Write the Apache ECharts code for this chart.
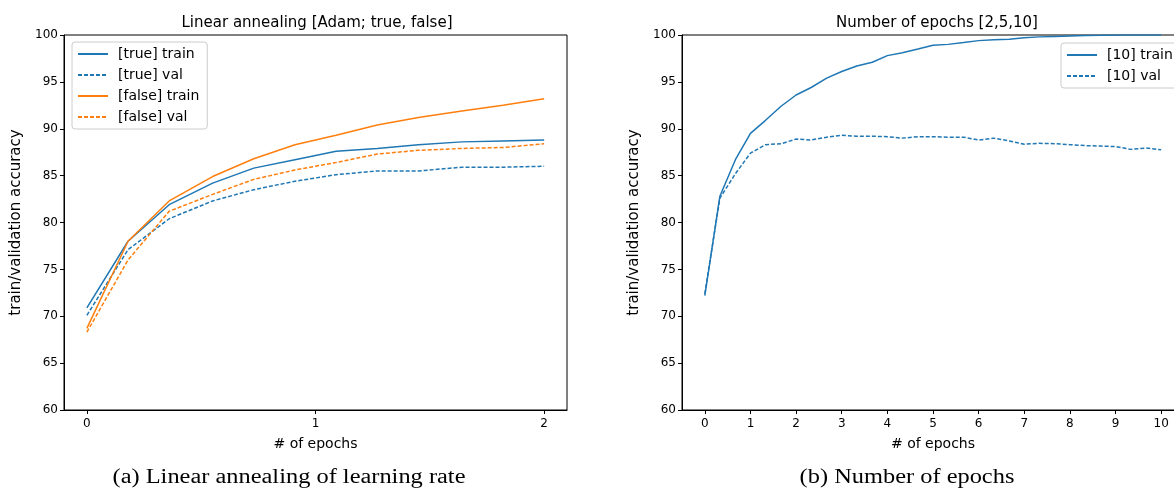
<!DOCTYPE html>
<html>
<head>
<meta charset="utf-8">
<script src="https://cdn.jsdelivr.net/npm/echarts@6/dist/echarts.min.js"></script>
<style>
html,body{margin:0;padding:0;background:#fff;}
#main{width:1174px;height:489px;}
</style>
</head>
<body>
<div id="main"></div>
<script>
// ---- data ----
var titleA = 'Linear annealing [Adam; true, false]';
var titleB = 'Number of epochs [2,5,10]';
var captionA = '(a) Linear annealing of learning rate';
var captionB = '(b) Number of epochs';
var xName = '# of epochs';
var yName = 'train/validation accuracy';

var yTicks = [60, 65, 70, 75, 80, 85, 90, 95, 100];
var xTicksA = [0, 1, 2];
var xTicksB = [0, 1, 2, 3, 4, 5, 6, 7, 8, 9, 10];

var epochsA = [0, 0.18, 0.36, 0.55, 0.73, 0.91, 1.09, 1.27, 1.45, 1.64, 1.82, 2.0];
var trueTrain  = [70.9, 78.0, 81.9, 84.2, 85.8, 86.7, 87.6, 87.9, 88.3, 88.6, 88.7, 88.8];
var trueVal    = [70.1, 77.1, 80.4, 82.3, 83.5, 84.4, 85.1, 85.5, 85.5, 85.9, 85.9, 86.0];
var falseTrain = [68.7, 78.0, 82.3, 84.9, 86.8, 88.3, 89.3, 90.4, 91.2, 91.9, 92.5, 93.2];
var falseVal   = [68.3, 76.0, 81.2, 83.0, 84.6, 85.6, 86.4, 87.3, 87.7, 87.9, 88.0, 88.4];

var epochsB = [0, 0.33, 0.67, 1, 1.33, 1.67, 2, 2.33, 2.67, 3, 3.33, 3.67, 4, 4.33, 4.67, 5,
               5.33, 5.67, 6, 6.33, 6.67, 7, 7.33, 7.67, 8, 8.33, 8.67, 9, 9.33, 9.67, 10];
var train10 = [72.2, 82.8, 86.7, 89.5, 90.9, 92.4, 93.6, 94.4, 95.4, 96.1, 96.7, 97.1, 97.8, 98.1, 98.5, 98.9,
               99.0, 99.2, 99.4, 99.5, 99.55, 99.7, 99.8, 99.85, 99.9, 99.95, 99.97, 100, 100, 100, 100];
var val10   = [72.4, 82.6, 85.2, 87.4, 88.3, 88.4, 88.9, 88.8, 89.1, 89.3, 89.2, 89.2, 89.15, 89.0, 89.15, 89.15,
               89.1, 89.1, 88.8, 89.0, 88.7, 88.35, 88.45, 88.4, 88.3, 88.2, 88.15, 88.1, 87.8, 87.95, 87.75];

var BLUE = '#1f77b4', ORANGE = '#ff7f0e';

function pairs(xs, ys) { return xs.map(function (x, i) { return [x, ys[i]]; }); }

var font = 'DejaVu Sans';
function xAxis(gi, min, max, ticks) {
  return {
    type: 'value', gridIndex: gi, min: min, max: max,
    name: xName, nameLocation: 'middle', nameGap: 27,
    nameTextStyle: { fontFamily: font, fontSize: 14, color: '#000' },
    axisLine: { show: true, onZero: false, lineStyle: { color: '#000', width: 1 } },
    axisTick: { show: true, length: 4, inside: false, customValues: ticks, lineStyle: { color: '#000' } },
    axisLabel: { customValues: ticks, margin: 8, fontFamily: font, fontSize: 12, color: '#000' },
    splitLine: { show: false }
  };
}
function yAxis(gi) {
  return {
    type: 'value', gridIndex: gi, min: yTicks[0], max: yTicks[yTicks.length - 1], interval: 5,
    name: yName, nameLocation: 'middle', nameGap: 40, nameRotate: 90,
    nameTextStyle: { fontFamily: font, fontSize: 15, color: '#000' },
    axisLine: { show: true, onZero: false, lineStyle: { color: '#000', width: 1 } },
    axisTick: { show: true, length: 4, lineStyle: { color: '#000' } },
    axisLabel: { margin: 6, fontFamily: font, fontSize: 12, color: '#000' },
    splitLine: { show: false }
  };
}
function line(name, xi, data, color, dashed) {
  return {
    type: 'line', name: name, xAxisIndex: xi, yAxisIndex: xi, data: data,
    symbol: 'none', showSymbol: false, animation: false,
    lineStyle: { color: color, width: 1.5, type: dashed ? [4, 2] : 'solid' },
    itemStyle: { color: color }
  };
}

var legendCommon = {
  orient: 'vertical', itemWidth: 30, itemHeight: 14, itemGap: 7,
  backgroundColor: 'rgba(255,255,255,0.85)', borderColor: '#cccccc', borderWidth: 1, borderRadius: 3,
  padding: [5, 8, 5, 5],
  itemStyle: { color: 'transparent', borderColor: 'transparent', borderWidth: 0, opacity: 0 },
  textStyle: { fontFamily: font, fontSize: 14, color: '#000', padding: [0, 0, 0, 5] }
};

var chart = echarts.init(document.getElementById('main'), null, { renderer: 'canvas' });
chart.setOption({
  animation: false,
  backgroundColor: '#fff',
  title: [
    { text: titleA, left: 312, top: 11, textAlign: 'center',
      textStyle: { fontFamily: font, fontSize: 15, fontWeight: 'normal', color: '#000' } },
    { text: titleB, left: 932, top: 11, textAlign: 'center',
      textStyle: { fontFamily: font, fontSize: 15, fontWeight: 'normal', color: '#000' } }
  ],
  grid: [
    { left: 64, width: 503, top: 35, bottom: 79, outerBoundsMode: 'none', containLabel: false,
      show: true, borderColor: '#000', borderWidth: 1, backgroundColor: 'transparent' },
    { left: 682, width: 502, top: 35, bottom: 79, outerBoundsMode: 'none', containLabel: false,
      show: true, borderColor: '#000', borderWidth: 1, backgroundColor: 'transparent' }
  ],
  xAxis: [xAxis(0, -0.1, 2.1, xTicksA), xAxis(1, -0.5, 10.5, xTicksB)],
  yAxis: [yAxis(0), yAxis(1)],
  legend: [
    Object.assign({}, legendCommon, { left: 72, top: 42, data: ['[true] train', '[true] val', '[false] train', '[false] val'] }),
    Object.assign({}, legendCommon, { left: 1061, top: 43, data: ['[10] train', '[10] val'] })
  ],
  series: [
    line('[true] train', 0, pairs(epochsA, trueTrain), BLUE, false),
    line('[true] val', 0, pairs(epochsA, trueVal), BLUE, true),
    line('[false] train', 0, pairs(epochsA, falseTrain), ORANGE, false),
    line('[false] val', 0, pairs(epochsA, falseVal), ORANGE, true),
    line('[10] train', 1, pairs(epochsB, train10), BLUE, false),
    line('[10] val', 1, pairs(epochsB, val10), BLUE, true)
  ],
  graphic: [
    { type: 'text', x: 289, y: 478, scaleX: 1.22,
      style: { text: captionA, font: '20px "Liberation Serif"', fill: '#000', align: 'center', verticalAlign: 'middle' } },
    { type: 'text', x: 907, y: 478, scaleX: 1.22,
      style: { text: captionB, font: '20px "Liberation Serif"', fill: '#000', align: 'center', verticalAlign: 'middle' } }
  ]
});
</script>
</body>
</html>
